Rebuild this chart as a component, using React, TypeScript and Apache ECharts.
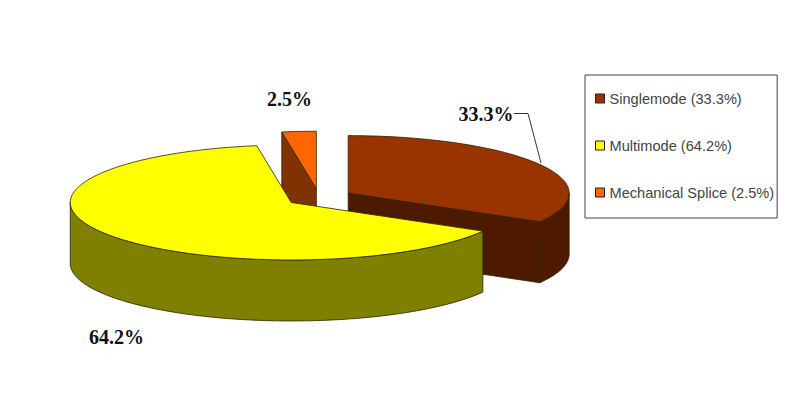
import React, { useEffect, useRef } from "react";
import * as echarts from "echarts";

const sliceNames = ["Singlemode", "Multimode", "Mechanical Splice"];
const sliceValues = [33.3, 64.2, 2.5];
const topColors = ["#993300", "#ffff00", "#ff6600"];
const sideColors = ["#4d1a00", "#808000", "#803300"];
const drawOrder = [1, 3, 2];
const labelAnchors = [
  [486, 113.5],
  [116.5, 337],
  [289.5, 99],
];
const leaderPoints = [
  [514, 113.5],
  [528, 113.5],
  [541, 163],
];

const CX = 319;
const CY = 197.5;
const EXPLODE = 33.7;
const RX = 221;
const RY = 57.5;
const DEPTH = 61;
const EDGE = "#2a2200";
const TOTAL = sliceValues.reduce((a, b) => a + b, 0);

const rad = (d: number) => (d * Math.PI) / 180;

function arcPoints(ax: number, ay: number, from: number, to: number, dy = 0) {
  const n = Math.max(2, Math.ceil(Math.abs(to - from) / 1.5));
  const pts: number[][] = [];
  for (let i = 0; i <= n; i++) {
    const t = rad(from + ((to - from) * i) / n);
    pts.push([ax + RX * Math.sin(t), ay - RY * Math.cos(t) + dy]);
  }
  return pts;
}

function poly(points: number[][], fill: string) {
  return {
    type: "polygon",
    shape: { points },
    style: { fill, stroke: EDGE, lineWidth: 0.8, lineJoin: "round" },
  };
}

function renderSlice(index: number) {
  return (_params: unknown, api: any) => {
    const value = api.value(0);
    const before = sliceValues.slice(0, index).reduce((a, b) => a + b, 0);
    const a1 = (before / TOTAL) * 360;
    const a2 = a1 + (value / TOTAL) * 360;
    const mid = rad((a1 + a2) / 2);
    const ax = CX + EXPLODE * Math.sin(mid);
    const ay = CY - EXPLODE * Math.cos(mid) * (RY / RX);
    const top = topColors[index];
    const side = sideColors[index];
    const children: any[] = [];

    const radial = (ang: number) => {
      const [p] = arcPoints(ax, ay, ang, ang);
      children.push(
        poly(
          [
            [ax, ay],
            p,
            [p[0], p[1] + DEPTH],
            [ax, ay + DEPTH],
          ],
          side
        )
      );
    };
    if (Math.sin(rad(a1)) < -1e-6) radial(a1);
    if (Math.sin(rad(a2)) > 1e-6) radial(a2);

    const f1 = Math.max(a1, 90);
    const f2 = Math.min(a2, 270);
    if (f2 > f1) {
      children.push(
        poly(
          [
            ...arcPoints(ax, ay, f1, f2),
            ...arcPoints(ax, ay, f2, f1, DEPTH),
          ],
          side
        )
      );
    }
    children.push(poly([[ax, ay], ...arcPoints(ax, ay, a1, a2)], top));

    const [lx, ly] = labelAnchors[index];
    children.push({
      type: "text",
      style: {
        x: lx,
        y: ly,
        text: `${value}%`,
        font: 'bold 20px "Liberation Serif"',
        fill: "#111111",
        align: "center",
        verticalAlign: "middle",
      },
    });
    return { type: "group", children };
  };
}

export default function App() {
  const ref = useRef<HTMLDivElement>(null);
  useEffect(() => {
    document.body.style.margin = "0";
    const chart = echarts.init(ref.current!, null, { renderer: "svg" });
    chart.setOption({
      animation: false,
      backgroundColor: "#ffffff",
      legend: {
        orient: "vertical",
        left: 585,
        top: 75,
        padding: [16, 3, 18, 10],
        itemWidth: 9,
        itemHeight: 9,
        itemGap: 32,
        icon: "rect",
        borderColor: "#444444",
        borderWidth: 1,
        backgroundColor: "#ffffff",
        selectedMode: false,
        itemStyle: { borderColor: "#222222", borderWidth: 1 },
        textStyle: {
          fontFamily: '"Liberation Sans"',
          fontSize: 14.6,
          color: "#444444",
        },
        data: sliceNames.map((n, i) => `${n} (${sliceValues[i]}%)`),
      },
      graphic: [
        {
          type: "polyline",
          shape: { points: leaderPoints },
          style: { stroke: "#333333", lineWidth: 1, fill: "none" },
          z: 20,
        },
      ],
      series: sliceNames.map((n, i) => ({
        type: "custom",
        name: `${n} (${sliceValues[i]}%)`,
        coordinateSystem: "none",
        silent: true,
        z: drawOrder[i],
        clip: false,
        itemStyle: { color: topColors[i] },
        data: [[sliceValues[i]]],
        renderItem: renderSlice(i),
      })),
    });
    return () => chart.dispose();
  }, []);
  return <div ref={ref} style={{ width: 800, height: 413 }} />;
}
